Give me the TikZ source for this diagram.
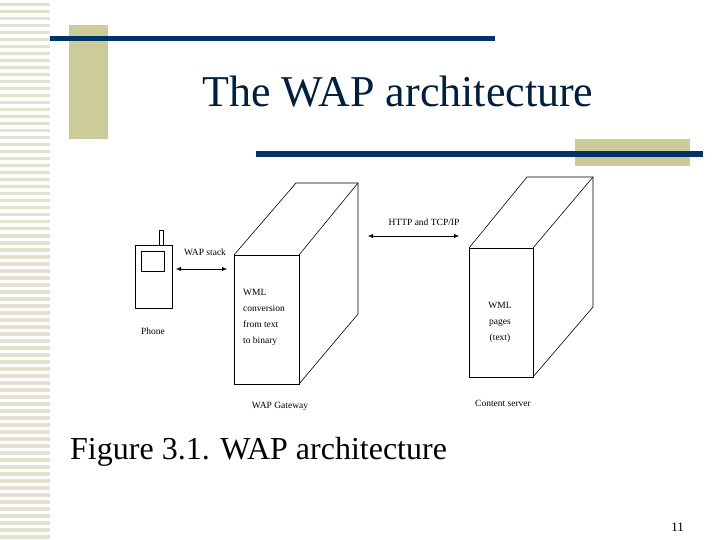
\documentclass[tikz,border=0pt]{standalone}
\usepackage{fontspec}
\setmainfont{Liberation Serif}
\usetikzlibrary{arrows.meta}
\definecolor{tan}{RGB}{204,204,153}
\definecolor{stripe}{RGB}{226,226,206}
\definecolor{navy}{RGB}{0,51,102}
\begin{document}
\begin{tikzpicture}[x=1pt,y=-1pt,
  lbl/.style={font=\fontsize{9.5}{10}\selectfont,inner sep=0pt},
  dbl/.style={{Latex[length=5pt,width=4pt]}-{Latex[length=5pt,width=4pt]},thin},
  edge/.style={line width=0.6pt}]
\useasboundingbox (0,0) rectangle (720,540);
\fill[white] (0,0) rectangle (720,540);
% left stripes
\foreach \y in {3,10,17,24,31,38,45,52,59,66,73,80,87,94,101,108,115,122,129,136,143,150,157,164,171,178,185,192,199,206,213,220,227,234,241,248,255,262,269,276,283,290,297,304,311,318,325,332,339,346,353,360,367,374,381,388,395,402,409,416,423,430,437,444,451,458,465,472,479,486,493,500,507,514,521,528,535}
  \fill[stripe] (0,\y) rectangle (50,\y+3.5);
% decorations
\fill[tan] (69,25) rectangle (108,139);
\fill[navy] (50,36) rectangle (495,41);
\fill[tan] (575,139) rectangle (690,166);
\fill[navy] (256,151) rectangle (703,157);
\node[font=\fontsize{44}{48}\selectfont,text=navy!60!black,anchor=base] (title) at (398,107) {The WAP architecture};
% phone
\draw[edge] (135,245) rectangle (172,308);
\draw[edge] (159,230) rectangle (163,245);
\draw[edge] (141,251) rectangle (164,271);
\draw[line width=1.5pt] (141,251.5) -- (164,251.5);
\node[lbl] (phone) at (153,331) {Phone};
% gateway
\draw[edge] (234,255) rectangle (299,384);
\draw[edge] (234,255) -- (296,183) -- (358,183) -- (358,314) -- (299,384);
\draw[edge] (299,255) -- (358,183);
\node[lbl,anchor=west,align=left] (gwtext) at (243,317) {WML\\[6pt]conversion\\[6pt]from text\\[6pt]to binary};
\node[lbl] (gw) at (280,406) {WAP Gateway};
% content server
\draw[edge] (469,248) rectangle (533,377);
\draw[edge] (469,248) -- (527,177) -- (593,177) -- (593,307) -- (533,377);
\draw[edge] (533,248) -- (593,177);
\node[lbl,align=center] (cstext) at (500,322) {WML\\[6pt]pages\\[6pt](text)};
\node[lbl] (cs) at (503,403) {Content server};
% arrows
\coordinate (a1) at (176,269); \coordinate (a2) at (227,269);
\draw[dbl] (a1) -- (a2);
\node[lbl] (wap) at (205,252) {WAP stack};
\coordinate (b1) at (368,236); \coordinate (b2) at (459,236);
\draw[dbl] (b1) -- (b2);
\node[lbl] (http) at (424,222) {HTTP and TCP/IP};
% caption
\node[font=\fontsize{32}{36}\selectfont,anchor=base west,inner sep=0pt] (cap) at (70,459) {Figure 3.1. WAP architecture};
\node[font=\fontsize{13}{15}\selectfont,anchor=base east,inner sep=0pt] (pg) at (684,531) {11};
\end{tikzpicture}
\end{document}
